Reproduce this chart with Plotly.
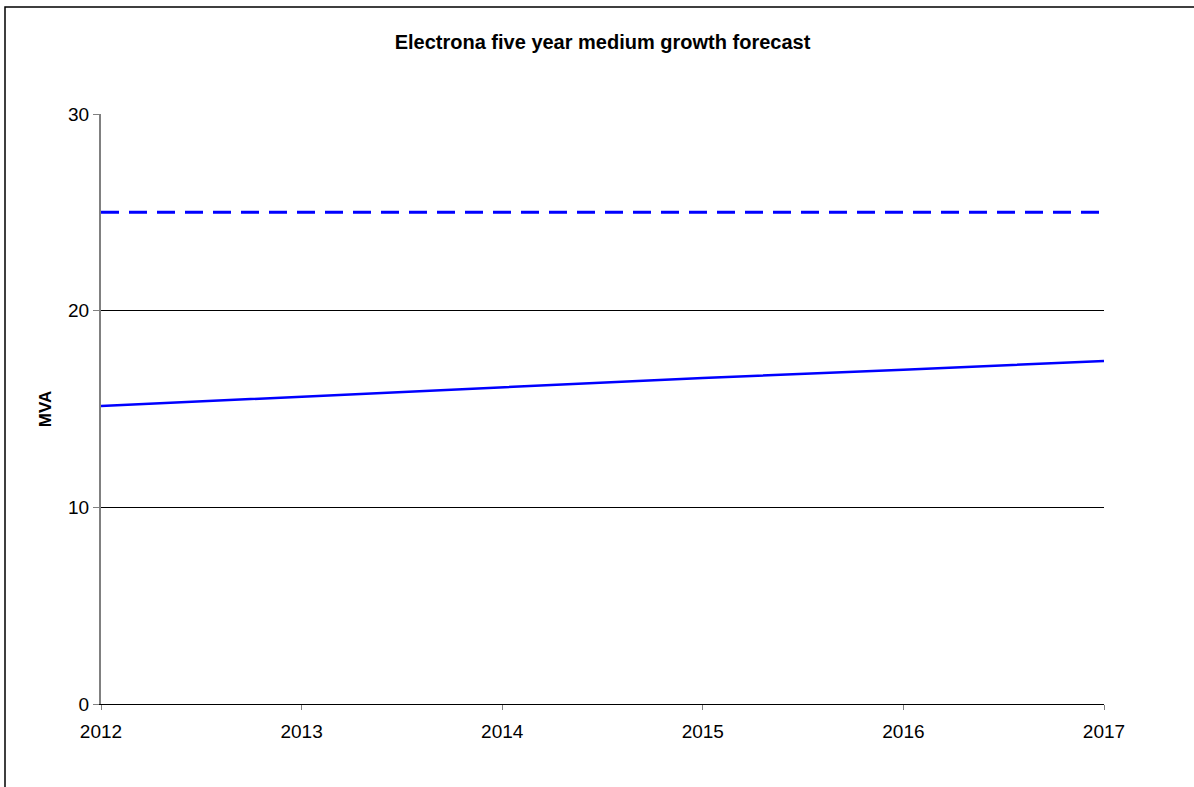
import plotly.graph_objects as go

years = [2012, 2013, 2014, 2015, 2016, 2017]
forecast_mva = [15.15, 15.63, 16.1, 16.58, 17.0, 17.44]
rating_mva = [25, 25, 25, 25, 25, 25]

fig = go.Figure()
fig.add_trace(go.Scatter(x=years, y=rating_mva, mode="lines",
                         line=dict(color="#0000FF", width=3, dash="18px,10px"),
                         showlegend=False, hoverinfo="skip"))
fig.add_trace(go.Scatter(x=years, y=forecast_mva, mode="lines",
                         line=dict(color="#0000FF", width=2.5),
                         showlegend=False))

fig.update_layout(
    width=1194, height=787,
    margin=dict(l=101, r=90, t=114, b=83),
    paper_bgcolor="white", plot_bgcolor="white",
    font=dict(family="Liberation Sans, Arial", size=19, color="black"),
    title=dict(text="<b>Electrona five year medium growth forecast</b>",
               x=(602.5) / 1194, xanchor="center", y=1 - 42 / 787, yanchor="middle",
               font=dict(size=20)),
    xaxis=dict(range=[2012, 2017], tickvals=years, ticktext=[str(y) for y in years],
               showgrid=False, zeroline=False, showline=True, linecolor="black", linewidth=1,
               ticks="outside", ticklen=5, tickcolor="#808080", tickwidth=1,
               tickfont=dict(size=19), ticklabelstandoff=5),
    yaxis=dict(range=[0, 30], tickvals=[0, 10, 20, 30], showgrid=True, gridcolor="black",
               gridwidth=1, zeroline=False, showline=True, linecolor="#808080", linewidth=2,
               ticks="outside", ticklen=6, tickcolor="#808080", tickwidth=1,
               tickfont=dict(size=19),
               title=dict(text="<b>MVA</b>", font=dict(size=17), standoff=12)),
    shapes=[dict(type="rect", xref="paper", yref="paper",
                 x0=(5 - 101) / 1003, x1=1.2, y0=-0.3, y1=(704 - 7) / 590,
                 line=dict(color="black", width=1.5), fillcolor="rgba(0,0,0,0)", layer="below")],
)

fig.write_html("out.html")
